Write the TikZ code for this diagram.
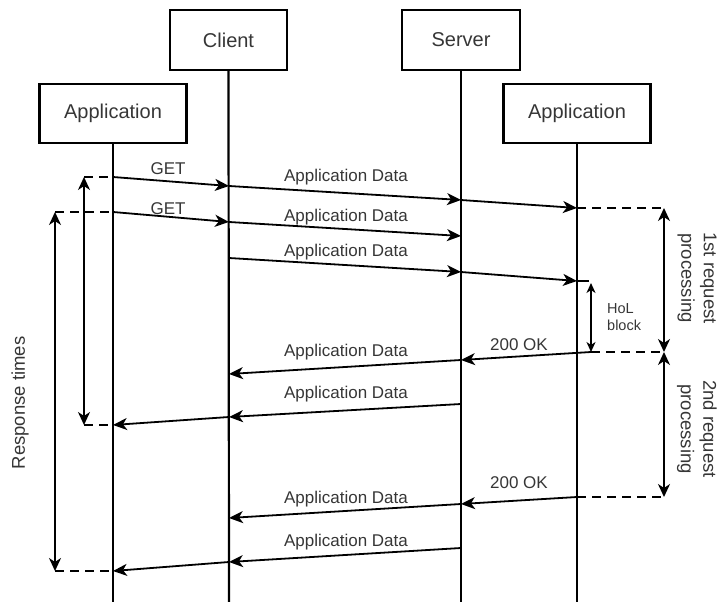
\documentclass[tikz,border=0pt]{standalone}
\usepackage{fontspec}
\setmainfont{Liberation Sans}
\usetikzlibrary{arrows.meta}
\definecolor{txt}{HTML}{363636}
\begin{document}
\begin{tikzpicture}[x=1pt,y=-1pt,
  box/.style={draw, line width=2.2pt, inner sep=0pt, font=\fontsize{20}{24}\selectfont, text=txt},
  life/.style={line width=2.2pt},
  msg/.style={line width=1.8pt, -{Stealth[length=14pt,width=12pt,inset=4pt]}},
  plain/.style={line width=1.8pt},
  lbl/.style={font=\fontsize{17}{20}\selectfont, text=txt, inner sep=0pt},
  side/.style={font=\fontsize{18.5}{22.5}\selectfont, text=txt, inner sep=0pt, align=center},
  dsh/.style={line width=2pt, dash pattern=on 9pt off 6pt},
  span/.style={line width=2pt, {Stealth[length=13pt,width=12pt,inset=4pt]}-{Stealth[length=13pt,width=12pt,inset=4pt]}},
  smallspan/.style={line width=1.6pt, {Stealth[length=10pt,width=9pt,inset=3pt]}-{Stealth[length=10pt,width=9pt,inset=3pt]}},
]
\useasboundingbox (0,0) rectangle (721,602);

% boxes
\node[box, minimum width=117pt, minimum height=60pt] (cl) at (228.5,40) {Client};
\node[box, minimum width=118pt, minimum height=60pt] (sv) at (461,40) {Server};
\node[box, minimum width=147pt, minimum height=59pt] (la) at (113,113.5) {Application};
\node[box, minimum width=147pt, minimum height=59pt] (ra) at (577,113.5) {Application};

% lifeline ends
\coordinate (laE) at (113,602);
\coordinate (clE) at (229,602);
\coordinate (svE) at (461,602);
\coordinate (raE) at (577,602);
\draw[life] (la.south) -- (laE);
\draw[life] (cl.south) -- (clE);
\draw[life] (sv.south) -- (svE);
\draw[life] (ra.south) -- (raE);

% message points
\coordinate (a1) at (113,177);  \coordinate (c1) at (229,186);
\coordinate (s1) at (461,200);  \coordinate (r1) at (577,208);
\coordinate (a2) at (113,212);  \coordinate (c2) at (229,222);
\coordinate (s2) at (461,236);
\coordinate (c3) at (229,258);  \coordinate (s3) at (461,272);
\coordinate (r3) at (577,281);  \coordinate (r3s) at (589,281);
\coordinate (h1) at (591,352);  \coordinate (s4) at (461,360);
\coordinate (c4) at (229,374);
\coordinate (s5) at (461,404);  \coordinate (c5) at (229,417);
\coordinate (a5) at (113,425);
\coordinate (r6) at (577,497);  \coordinate (s6) at (461,504);
\coordinate (c6) at (229,518);
\coordinate (s7) at (461,548);  \coordinate (c7) at (229,562);
\coordinate (a7) at (113,571);

% messages
\draw[msg] (a1) -- (c1);
\draw[msg] (c1) -- (s1);
\draw[msg] (s1) -- (r1);
\draw[msg] (a2) -- (c2);
\draw[msg] (c2) -- (s2);
\draw[msg] (c3) -- (s3);
\draw[msg] (s3) -- (r3);
\draw[plain] (r3) -- (r3s);
\draw[msg] (h1) -- (s4);
\draw[msg] (s4) -- (c4);
\draw[msg] (s5) -- (c5);
\draw[msg] (c5) -- (a5);
\draw[msg] (r6) -- (s6);
\draw[msg] (s6) -- (c6);
\draw[msg] (s7) -- (c7);
\draw[msg] (c7) -- (a7);

% labels
\node[lbl] (g1) at (168,169) {GET};
\node[lbl] (g2) at (168,209) {GET};
\node[lbl] (d1) at (346,177) {Application Data};
\node[lbl] (d2) at (346,217) {Application Data};
\node[lbl] (d3) at (346,252) {Application Data};
\node[lbl] (d4) at (346,352) {Application Data};
\node[lbl] (d5) at (346,394) {Application Data};
\node[lbl] (d6) at (346,499) {Application Data};
\node[lbl] (d7) at (346,542) {Application Data};
\node[lbl] (ok1) at (519,345) {200 OK};
\node[lbl] (ok2) at (519,483) {200 OK};

% dashed guides
\coordinate (lA) at (84,177);  \coordinate (lB) at (84,425);
\coordinate (oA) at (55,212);  \coordinate (oB) at (55,571);
\coordinate (rA) at (664,208); \coordinate (rB) at (664,352); \coordinate (rC) at (664,497);
\coordinate (hT) at (591,283);
\draw[dsh] (lA) -- (a1);
\draw[dsh] (oA) -- (a2);
\draw[dsh] (lB) -- (a5);
\draw[dsh] (oB) -- (a7);
\draw[dsh] (r1) -- (rA);
\draw[dsh] (h1) -- (rB);
\draw[dsh] (r6) -- (rC);

% spans
\draw[span] (lA) -- (lB);
\draw[span] (oA) -- (oB);
\draw[span] (rA) -- (rB);
\draw[span] (rB) -- (rC);
\draw[smallspan] (hT) -- (h1);

% side labels
\node[font=\fontsize{14.5}{17.5}\selectfont, text=txt, inner sep=0pt, align=left, anchor=west] (hol) at (607,317) {HoL\\block};
\node[side, rotate=-90] (p1) at (697,278) {1st request\\processing};
\node[side, rotate=-90] (p2) at (697,429) {2nd request\\processing};
\node[side, rotate=90] (rt) at (20,403) {Response times};
\end{tikzpicture}
\end{document}
